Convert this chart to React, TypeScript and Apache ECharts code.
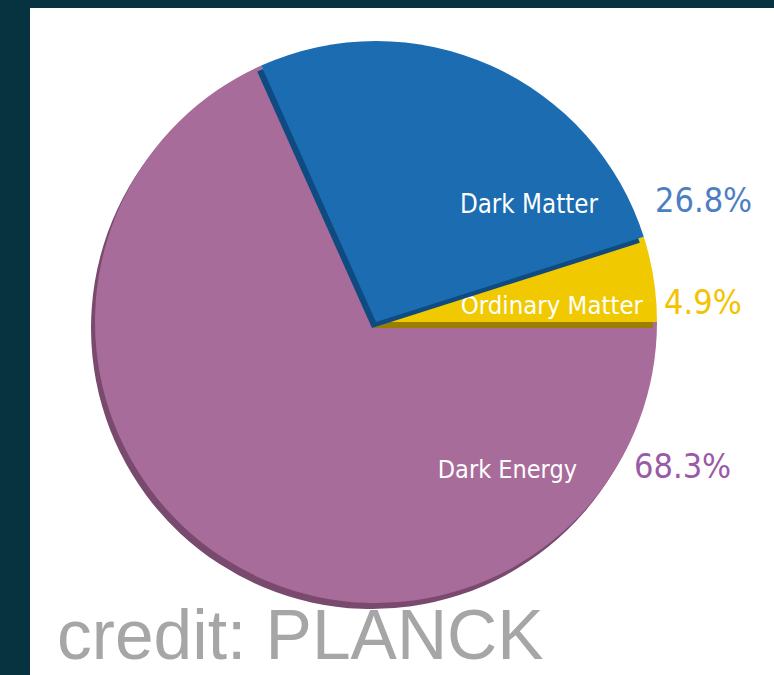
import React, { useEffect, useRef } from "react";
import * as echarts from "echarts";

// Data (counter-clockwise from 3 o'clock)
const categories = ["Ordinary Matter", "Dark Matter", "Dark Energy"];
const values = [4.9, 26.8, 68.3];
const percentLabels = ["4.9%", "26.8%", "68.3%"];

// Styling (not data)
const mainColors = ["#F1C900", "#1B6CB0", "#A86C9B"];
const shadowColors = ["#9A7E00", "#0F4A80", "#7A4A6E"];
const pctColors = ["#F3C300", "#4C7EC3", "#9A5BA6"];
// label anchors: [x, y, fontSize] for inner name label (right-aligned) and pct label (left-aligned)
const nameAnchors = [
  [643, 304.5, 25.5],
  [598, 204.2, 25.7],
  [577, 469.4, 25],
];
const pctAnchors = [
  [664, 301.5, 34],
  [655, 200.2, 34],
  [634, 466.2, 34],
];
const drawOrder = [2, 0, 1]; // purple first, then yellow, then blue on top
const CX = 376;
const CY = 322;
const R = 281;
const SDX = -4;
const SDY = 6;
const FONT = "'DejaVu Sans Condensed', 'DejaVu Sans', sans-serif";

function buildSeries() {
  const series: any[] = [];
  drawOrder.forEach((k, layer) => {
    // shadow layer carries the percentage label
    series.push({
      type: "pie",
      name: "shadow-" + categories[k],
      center: [CX + SDX, CY + SDY],
      radius: R,
      startAngle: 0,
      clockwise: false,
      silent: true,
      z: 2 + layer * 2,
      labelLine: { show: false },
      labelLayout: (p: any) =>
        p.dataIndex === k
          ? { x: pctAnchors[k][0], y: pctAnchors[k][1], align: "left", verticalAlign: "middle" }
          : {},
      data: categories.map((c, i) => ({
        name: c,
        value: values[i],
        itemStyle: { color: i === k ? shadowColors[k] : "rgba(0,0,0,0)" },
        label: {
          show: i === k,
          position: "inside",
          overflow: "none",
          formatter: percentLabels[i],
          color: pctColors[i],
          fontSize: pctAnchors[i][2],
          fontFamily: FONT,
        },
      })),
    });
    series.push({
      type: "pie",
      name: categories[k],
      center: [CX, CY],
      radius: R,
      startAngle: 0,
      clockwise: false,
      silent: true,
      z: 3 + layer * 2,
      labelLine: { show: false },
      labelLayout: (p: any) =>
        p.dataIndex === k
          ? { x: nameAnchors[k][0], y: nameAnchors[k][1], align: "right", verticalAlign: "middle" }
          : {},
      data: categories.map((c, i) => ({
        name: c,
        value: values[i],
        itemStyle: { color: i === k ? mainColors[k] : "rgba(0,0,0,0)" },
        label: {
          show: i === k,
          position: "inside",
          overflow: "none",
          formatter: "{b}",
          color: "#FFFFFF",
          fontSize: nameAnchors[i][2],
          fontFamily: FONT,
        },
      })),
    });
  });
  return series;
}

export default function App() {
  const ref = useRef<HTMLDivElement>(null);
  useEffect(() => {
    if (!ref.current) return;
    const chart = echarts.init(ref.current, null, { renderer: "svg" });
    chart.setOption({
      animation: false,
      backgroundColor: "#07323F",
      graphic: [
        {
          type: "rect",
          z: 0,
          shape: { x: 30, y: 8, width: 744, height: 667 },
          style: { fill: "#FFFFFF" },
        },
        {
          type: "text",
          z: 100,
          x: 57,
          y: 635,
          style: {
            text: "credit: PLANCK",
            fill: "#A6A6A6",
            fontSize: 69.5,
            fontFamily: "'Liberation Sans', Arial, sans-serif",
            verticalAlign: "middle",
            align: "left",
          },
        },
      ],
      series: buildSeries(),
    });
    return () => chart.dispose();
  }, []);
  return (
    <div
      ref={ref}
      style={{ position: "fixed", left: 0, top: 0, width: 774, height: 675 }}
    />
  );
}
